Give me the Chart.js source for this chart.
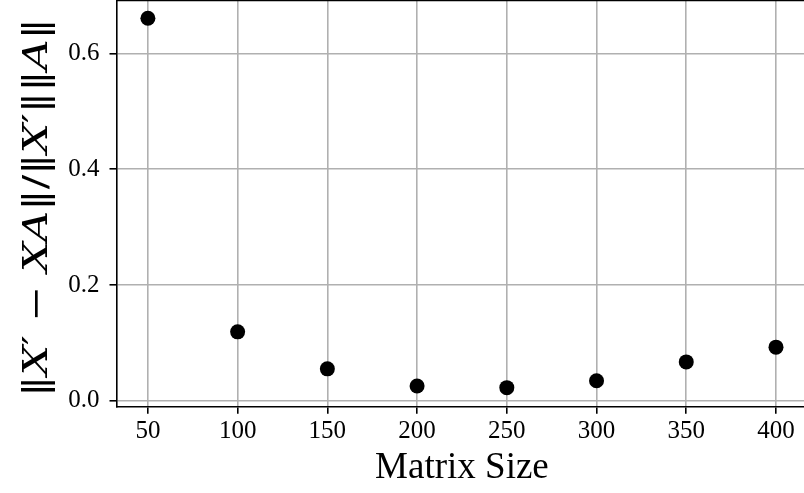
<!DOCTYPE html>
<html>
<head>
<meta charset="utf-8">
<script src="https://cdn.jsdelivr.net/npm/chart.js@4.4.1/dist/chart.umd.min.js"></script>
<style>
  html, body { margin: 0; padding: 0; background: #fff; overflow: hidden; }
  #wrap { position: relative; width: 808px; height: 493px; }
</style>
</head>
<body>
<div id="wrap"><canvas id="errChart"></canvas></div>
<script>
// Relative residual vs matrix size
const matrixSizes = [50, 100, 150, 200, 250, 300, 350, 400];
const relError = [0.661, 0.119, 0.055, 0.0255, 0.0225, 0.0345, 0.067, 0.0925];
const xTicks = [50, 100, 150, 200, 250, 300, 350, 400];
const yTicks = [0.0, 0.2, 0.4, 0.6];

const SERIF = '"Liberation Serif", "DejaVu Serif", serif';
const MATH = '"DejaVu Serif", serif';

// y-axis label is a formula, drawn piece by piece so X and A can be italic
const yLabelParts = [
    ['\u2016', false], ['X', true], ['\u2032', false], [' \u2212 ', false],
    ['X', true], ['A', true], ['\u2016', false], ['/', false], ['\u2016', false],
    ['X', true], ['\u2032', false], ['\u2016', false], ['\u2016', false],
    ['A', true], ['\u2016', false]
];
const yLabelLength = 379;

const yLabelPlugin = {
    id: 'yLabel',
    afterDraw(chart) {
        const ctx = chart.ctx;
        const size = 34;
        const fontFor = italic => (italic ? 'italic ' : '') + size + 'px ' + MATH;
        let total = 0;
        yLabelParts.forEach(([t, it]) => {
            ctx.font = fontFor(it);
            total += ctx.measureText(t).width;
        });
        ctx.save();
        ctx.translate(47, 207.5);
        ctx.rotate(-Math.PI / 2);
        ctx.scale(yLabelLength / total, 1);
        ctx.fillStyle = '#000';
        ctx.textBaseline = 'alphabetic';
        ctx.textAlign = 'left';
        let x = -total / 2;
        yLabelParts.forEach(([t, it]) => {
            ctx.font = fontFor(it);
            ctx.fillText(t, x, 0);
            x += ctx.measureText(t).width;
        });
        ctx.restore();
    }
};

// top and right spines
const framePlugin = {
    id: 'frame',
    afterDatasetsDraw(chart) {
        const { ctx, chartArea: a } = chart;
        ctx.save();
        ctx.strokeStyle = '#000';
        ctx.lineWidth = 1.6;
        ctx.beginPath();
        ctx.moveTo(a.left, a.top);
        ctx.lineTo(a.right, a.top);
        ctx.lineTo(a.right, a.bottom);
        ctx.stroke();
        ctx.restore();
    }
};

new Chart(document.getElementById('errChart'), {
    type: 'scatter',
    data: {
        datasets: [{
            data: matrixSizes.map((s, i) => ({ x: s, y: relError[i] })),
            backgroundColor: '#000',
            borderWidth: 0,
            pointRadius: 7.5,
            pointHoverRadius: 7.5
        }]
    },
    options: {
        responsive: true,
        maintainAspectRatio: false,
        animation: false,
        layout: { autoPadding: false, padding: { top: 0.5, right: 0.6, left: 0, bottom: 0 } },
        plugins: {
            legend: { display: false },
            tooltip: { enabled: false }
        },
        scales: {
            x: {
                type: 'linear',
                min: 32.5,
                max: 417.5,
                afterBuildTicks: s => { s.ticks = xTicks.map(v => ({ value: v })); },
                afterFit: s => { s.height = 86.3; s.paddingLeft = 0; s.paddingRight = 0; },
                grid: { color: '#b0b0b0', lineWidth: 1.6, tickLength: 7, tickColor: '#000', tickWidth: 1.6 },
                border: { display: true, color: '#000', width: 1.6 },
                ticks: {
                    color: '#000',
                    padding: 3,
                    maxRotation: 0,
                    font: { family: SERIF, size: 25 },
                    callback: v => String(v)
                },
                title: {
                    display: true,
                    text: 'Matrix Size',
                    color: '#000',
                    font: { family: SERIF, size: 37 },
                    padding: { top: 0, bottom: 3 }
                }
            },
            y: {
                type: 'linear',
                min: -0.0104,
                max: 0.6918,
                afterBuildTicks: s => { s.ticks = yTicks.map(v => ({ value: v })); },
                afterFit: s => { s.width = 116.5; s.paddingTop = 0; s.paddingBottom = 0; },
                grid: { color: '#b0b0b0', lineWidth: 1.6, tickLength: 7, tickColor: '#000', tickWidth: 1.6 },
                border: { display: true, color: '#000', width: 1.6 },
                ticks: {
                    color: '#000',
                    padding: 10,
                    font: { family: SERIF, size: 25 },
                    callback: v => v.toFixed(1)
                }
            }
        }
    },
    plugins: [yLabelPlugin, framePlugin]
});
</script>
</body>
</html>
